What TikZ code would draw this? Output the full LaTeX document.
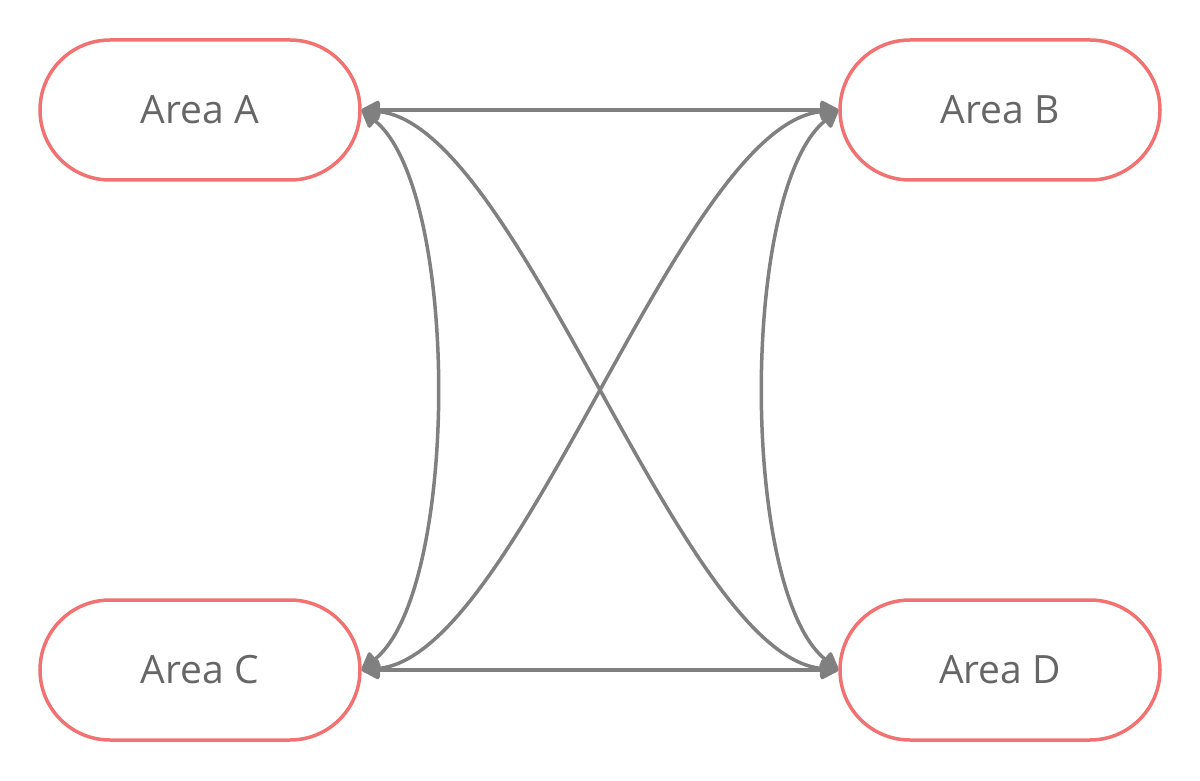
\documentclass[tikz,border=0pt]{standalone}
\usepackage{fontspec}
\setmainfont{Open Sans}
\usetikzlibrary{arrows.meta}
\definecolor{boxred}{HTML}{F27272}
\definecolor{txtgray}{HTML}{666666}
\definecolor{arrgray}{HTML}{808080}
\begin{document}
\begin{tikzpicture}[x=1pt,y=-1pt,
  area/.style={draw=boxred, line width=3.5pt, fill=white, rounded corners=70pt,
    minimum width=320pt, minimum height=140pt, inner sep=0pt,
    text=txtgray, font=\fontsize{39}{46}\selectfont},
  link/.style={draw=arrgray, line width=3.5pt,
    {Triangle[length=20pt,width=20pt,round]}-{Triangle[length=20pt,width=20pt,round]}}]
\useasboundingbox (0,0) rectangle (1200,781);
\node[area] (A) at (200,110) {Area A};
\node[area] (B) at (1000,110) {Area B};
\node[area] (C) at (200,670) {Area C};
\node[area] (D) at (1000,670) {Area D};
\draw[link] (A.east) -- (B.west);
\draw[link] (C.east) -- (D.west);
\draw[link] (A.east) .. controls (460,190) and (460,590) .. (C.east);
\draw[link] (B.west) .. controls (740,190) and (740,590) .. (D.west);
\draw[link] (A.east) .. controls (520,125) and (680,655) .. (D.west);
\draw[link] (B.west) .. controls (680,125) and (520,655) .. (C.east);
\end{tikzpicture}
\end{document}
